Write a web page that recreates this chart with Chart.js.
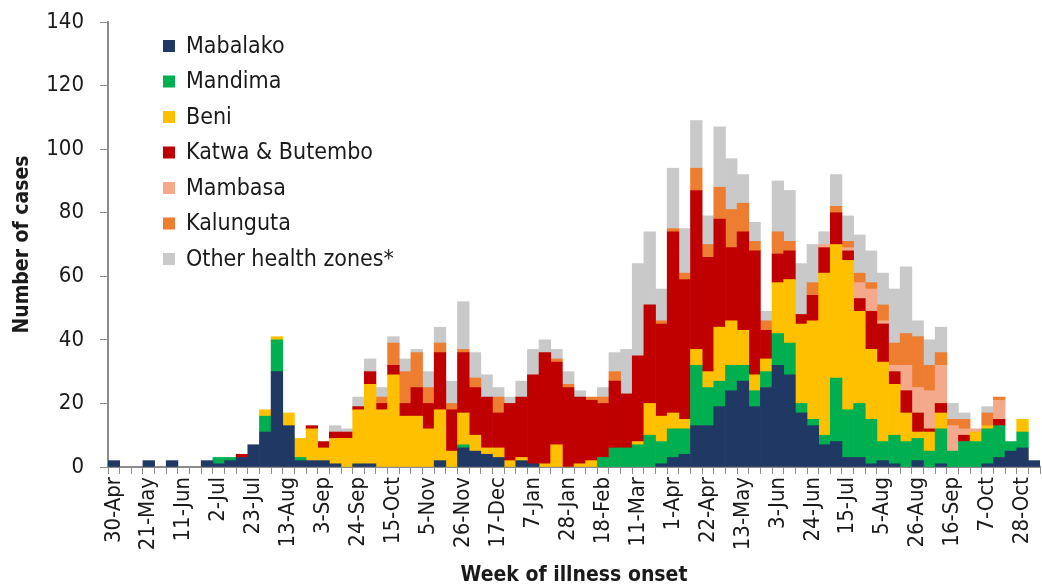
<!DOCTYPE html>
<html>
<head>
<meta charset="utf-8">
<script src="https://cdn.jsdelivr.net/npm/chart.js@4/dist/chart.umd.min.js"></script>
<style>
  html, body { margin: 0; padding: 0; background: #fff; }
  #wrap { position: relative; width: 1042px; height: 588px; }
</style>
</head>
<body>
<div id="wrap"><canvas id="c" width="1042" height="588"></canvas></div>
<script>
const weeks = ["30-Apr","7-May","14-May","21-May","28-May","4-Jun","11-Jun","18-Jun","25-Jun","2-Jul",
  "9-Jul","16-Jul","23-Jul","30-Jul","6-Aug","13-Aug","20-Aug","27-Aug","3-Sep","10-Sep",
  "17-Sep","24-Sep","1-Oct","8-Oct","15-Oct","22-Oct","29-Oct","5-Nov","12-Nov","19-Nov",
  "26-Nov","3-Dec","10-Dec","17-Dec","24-Dec","31-Dec","7-Jan","14-Jan","21-Jan","28-Jan",
  "4-Feb","11-Feb","18-Feb","25-Feb","4-Mar","11-Mar","18-Mar","25-Mar","1-Apr","8-Apr",
  "15-Apr","22-Apr","29-Apr","6-May","13-May","20-May","27-May","3-Jun","10-Jun","17-Jun",
  "24-Jun","1-Jul","8-Jul","15-Jul","22-Jul","29-Jul","5-Aug","12-Aug","19-Aug","26-Aug",
  "2-Sep","9-Sep","16-Sep","23-Sep","30-Sep","7-Oct","14-Oct","21-Oct","28-Oct","4-Nov"];

const mabalako = [2,0,0,2,0,2,0,0,2,1, 2,3,7,11,30,13,2,2,2,1, 0,1,1,0,0,0,0,0,2,0,
  6,5,4,3,0,2,1,0,0,0, 0,0,0,0,0,0,0,1,3,4, 13,13,19,24,27,19,25,32,29,17,
  13,7,8,3,3,1,2,1,0,2, 0,1,0,0,0,1,3,5,6,2];
const mandima = [0,0,0,0,0,0,0,0,0,2, 1,0,0,5,10,0,1,0,0,0, 0,0,0,0,0,0,0,0,0,0,
  1,0,0,0,0,0,0,0,0,0, 0,0,3,6,6,7,10,7,9,8, 19,12,8,8,5,5,5,10,10,3,
  2,3,20,15,17,14,6,9,8,7, 5,11,5,8,8,11,10,3,5,0];
const beni = [0,0,0,0,0,0,0,0,0,0, 0,0,0,2,1,4,6,10,4,8, 9,17,25,18,29,16,16,12,16,5,
  10,5,2,3,2,1,0,1,7,0, 1,2,0,0,0,1,10,8,5,3, 5,5,17,14,11,5,4,16,20,25,
  31,51,42,47,29,22,25,16,9,2, 6,5,0,0,3,1,0,0,4,0];
const katwaButembo = [0,0,0,0,0,0,0,0,0,0, 0,1,0,0,0,0,0,1,2,2, 2,1,4,2,3,4,9,8,18,13,
  19,15,16,11,18,19,28,35,26,25, 21,19,17,21,17,27,31,29,57,44, 50,36,34,23,31,39,9,9,9,3,
  8,8,10,3,4,12,12,4,7,6, 1,3,0,2,0,0,2,0,0,0];
const mambasa = [0,0,0,0,0,0,0,0,0,0, 0,0,0,0,0,0,0,0,0,0, 0,0,0,0,0,0,0,0,0,0,
  0,0,0,0,0,0,0,0,0,0, 0,0,0,0,0,0,0,0,0,0, 0,0,0,0,0,0,0,0,0,0,
  0,1,0,1,5,7,1,2,8,8, 12,12,8,2,1,0,6,0,0,0];
const kalunguta = [0,0,0,0,0,0,0,0,0,0, 0,0,0,0,0,0,0,0,0,0, 0,0,0,2,7,10,11,5,3,2,
  1,3,0,5,0,0,0,0,1,1, 0,1,2,3,0,0,0,1,1,2, 7,4,10,12,9,3,3,7,3,0,
  4,0,2,2,3,2,5,7,10,16, 8,4,2,3,0,4,1,0,0,0];
const otherZones = [0,0,0,0,0,0,0,0,0,0, 0,0,0,0,0,0,0,0,0,2, 1,3,4,3,2,4,1,5,5,7,
  15,8,7,3,2,5,8,4,3,4, 2,0,3,6,14,29,23,10,19,14, 15,9,19,16,9,6,3,16,16,16,
  12,4,10,8,12,10,10,17,21,5, 8,8,5,2,0,2,0,0,0,0];

const yTicks = [0,20,40,60,80,100,120,140];

const FONT = "'DejaVu Sans Condensed', 'DejaVu Sans', sans-serif";
Chart.defaults.font.family = FONT;
Chart.defaults.color = '#1a1a1a';

const series = [
  { label: 'Mabalako', data: mabalako, color: '#1F3864' },
  { label: 'Mandima', data: mandima, color: '#00B050' },
  { label: 'Beni', data: beni, color: '#FFC000' },
  { label: 'Katwa & Butembo', data: katwaButembo, color: '#C00000' },
  { label: 'Mambasa', data: mambasa, color: '#F4A98A' },
  { label: 'Kalunguta', data: kalunguta, color: '#ED7D31' },
  { label: 'Other health zones*', data: otherZones, color: '#C9C9C9' }
];

const legendPlugin = {
  id: 'insideLegend',
  afterDraw(chart) {
    const ctx = chart.ctx;
    ctx.save();
    ctx.font = '23px ' + FONT;
    ctx.textBaseline = 'middle';
    ctx.textAlign = 'left';
    chart.data.datasets.forEach((ds, i) => {
      const y = 46 + i * 35.5;
      ctx.fillStyle = ds.backgroundColor;
      ctx.fillRect(163, y - 6, 12, 12);
      ctx.fillStyle = '#1a1a1a';
      ctx.fillText(ds.label, 186, y + 1);
    });
    ctx.restore();
  }
};

new Chart(document.getElementById('c'), {
  type: 'bar',
  data: {
    labels: weeks,
    datasets: series.map(s => ({
      label: s.label,
      data: s.data.map(v => (v === 0 ? null : v)),
      backgroundColor: s.color,
      borderWidth: 0,
      barPercentage: 1,
      categoryPercentage: 1,
      stack: 'cases'
    }))
  },
  options: {
    responsive: false,
    animation: false,
    layout: { padding: { top: 22, right: 2, bottom: 0, left: 0 } },
    plugins: { legend: { display: false }, tooltip: { enabled: false } },
    scales: {
      x: {
        stacked: true,
        grid: { display: true, drawOnChartArea: false, drawTicks: true, color: '#8c8c8c', tickLength: 7, offset: true },
        border: { display: true, color: '#8c8c8c', width: 2 },
        ticks: {
          autoSkip: false, maxRotation: 90, minRotation: 90, padding: 3,
          font: { size: 22 }, color: '#1a1a1a',
          callback: (v, i) => (i % 3 === 0 ? weeks[i] : '')
        },
        title: { display: true, text: 'Week of illness onset', font: { size: 21, weight: 'bold' }, color: '#1a1a1a', padding: { top: 0, bottom: 0 } },
        afterFit: (s) => { s.height = 121; s.paddingLeft = 0; s.paddingRight = 0; }
      },
      y: {
        stacked: true,
        min: 0, max: 140,
        afterBuildTicks: (s) => { s.ticks = yTicks.map(v => ({ value: v })); },
        grid: { display: true, drawOnChartArea: false, drawTicks: true, color: '#8c8c8c', tickLength: 8 },
        border: { display: true, color: '#8c8c8c', width: 2 },
        ticks: { font: { size: 22 }, color: '#1a1a1a', padding: 16 },
        title: { display: true, text: 'Number of cases', font: { size: 21, weight: 'bold' }, color: '#1a1a1a', padding: { top: 10, bottom: 0 } },
        afterFit: (s) => { s.width = 108; s.paddingTop = 0; s.paddingBottom = 0; }
      }
    }
  },
  plugins: [legendPlugin]
});
</script>
</body>
</html>
